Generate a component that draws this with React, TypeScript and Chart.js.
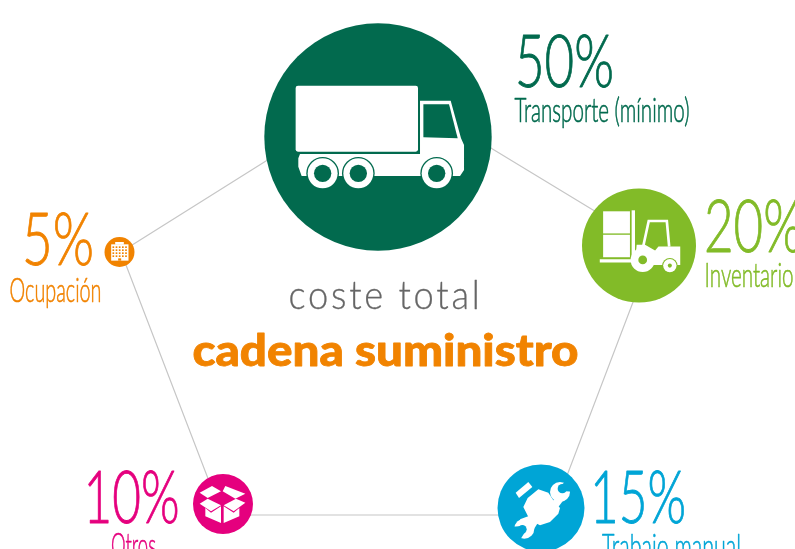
import React, { useEffect, useRef } from "react";
import { Chart, registerables } from "chart.js";

Chart.register(...registerables);

const categories = ["Transporte (mínimo)", "Inventario", "Trabajo manual", "Otros", "Ocupación"];
const shares = [50, 20, 15, 10, 5];
const bubbleX = [378, 639, 541, 223, 119.5];
const bubbleY = [137, 245.5, 508, 504, 252];
const bubbleR = [113.7, 57, 43.5, 30, 15];
const ringX = [387, 654, 552, 222, 121, 387];
const ringY = [85, 247, 515, 515, 252, 85];
const centerTitle = "coste total";
const centerSubtitle = "cadena suministro";

const GREEN = "#026A4E";
const LIME = "#82BB28";
const BLUE = "#00A5D6";
const PINK = "#E5007E";
const ORANGE = "#F18300";
const colors = [GREEN, LIME, BLUE, PINK, ORANGE];

type Ctx = CanvasRenderingContext2D;

function poly(ctx: Ctx, pts: number[][], fill: string) {
  ctx.fillStyle = fill;
  ctx.beginPath();
  pts.forEach((p, i) => (i ? ctx.lineTo(p[0], p[1]) : ctx.moveTo(p[0], p[1])));
  ctx.closePath();
  ctx.fill();
}
function disc(ctx: Ctx, x: number, y: number, r: number, fill: string) {
  ctx.fillStyle = fill;
  ctx.beginPath();
  ctx.arc(x, y, r, 0, Math.PI * 2);
  ctx.fill();
}
function rrect(ctx: Ctx, x: number, y: number, w: number, h: number, r: number, fill: string) {
  ctx.fillStyle = fill;
  ctx.beginPath();
  ctx.roundRect(x, y, w, h, r);
  ctx.fill();
}

function truck(ctx: Ctx) {
  const W = "#fff";
  rrect(ctx, 107, 227, 367, 198, 7, W);
  poly(ctx, [[120, 432], [480, 432], [480, 272], [572, 272], [603, 385], [612, 405], [612, 480], [600, 498], [125, 498], [115, 470], [115, 445]], W);
  poly(ctx, [[490, 283], [567, 283], [593, 385], [490, 382]], GREEN);
  [188, 295, 530].forEach((x) => {
    disc(ctx, x, 490, 49, GREEN);
    disc(ctx, x, 490, 45, W);
    disc(ctx, x, 490, 26, GREEN);
  });
}
function forklift(ctx: Ctx) {
  const W = "#fff";
  rrect(ctx, 85, 95, 80, 66, 0, W);
  rrect(ctx, 85, 165, 80, 67, 0, W);
  rrect(ctx, 170, 92, 10, 150, 0, W);
  rrect(ctx, 75, 238, 105, 10, 0, W);
  ctx.strokeStyle = W;
  ctx.lineWidth = 8;
  ctx.beginPath();
  ctx.moveTo(205, 198);
  ctx.lineTo(221, 124);
  ctx.lineTo(275, 124);
  ctx.lineTo(282, 200);
  ctx.stroke();
  poly(ctx, [[185, 195], [210, 195], [240, 212], [250, 200], [315, 200], [315, 255], [180, 255]], W);
  disc(ctx, 203, 240, 36, W);
  disc(ctx, 203, 240, 13, LIME);
  disc(ctx, 284, 257, 23, LIME);
  disc(ctx, 284, 257, 20, W);
  disc(ctx, 284, 257, 6, LIME);
}
function wrench(ctx: Ctx) {
  const W = "#fff";
  poly(ctx, [[32, 62], [70, 30], [82, 45], [42, 78]], W);
  disc(ctx, 165, 60, 30, W);
  poly(ctx, [[150, 80], [175, 85], [160, 105], [140, 90]], W);
  disc(ctx, 172, 50, 14, BLUE);
  poly(ctx, [[163, 44], [198, 14], [222, 60], [180, 58]], BLUE);
  disc(ctx, 58, 170, 30, W);
  poly(ctx, [[45, 142], [90, 125], [100, 150], [80, 182]], W);
  disc(ctx, 52, 172, 13, BLUE);
  poly(ctx, [[50, 162], [14, 165], [40, 212], [60, 180]], BLUE);
  poly(ctx, [[68, 78], [100, 52], [130, 62], [145, 85], [165, 108], [160, 125], [135, 150], [105, 160], [75, 145], [55, 105]], W);
}
function box(ctx: Ctx) {
  const W = "#fff";
  poly(ctx, [[28, 62], [65, 42], [92, 58], [52, 78]], W);
  poly(ctx, [[105, 42], [165, 65], [135, 80], [97, 58]], W);
  poly(ctx, [[28, 95], [52, 80], [92, 100], [62, 118]], W);
  poly(ctx, [[165, 92], [137, 80], [100, 100], [130, 118]], W);
  poly(ctx, [[45, 108], [62, 122], [92, 103], [92, 153], [45, 133]], W);
  poly(ctx, [[147, 108], [130, 122], [100, 103], [100, 153], [147, 133]], W);
}
function building(ctx: Ctx) {
  const W = "#fff";
  rrect(ctx, 333, 134, 52, 49, 0, W);
  rrect(ctx, 345, 127, 26, 8, 0, W);
  ctx.fillStyle = ORANGE;
  for (let c = 0; c < 5; c++) {
    for (let r = 0; r < 4; r++) {
      ctx.fillRect(337 + c * 9.5, 140 + r * 9, 5, 5);
    }
  }
  ctx.fillRect(354, 176, 9, 7);
}

const icons: { draw: (c: Ctx) => void; cx: number; cy: number; r: number }[] = [
  { draw: truck, cx: 354, cy: 381, r: 341 },
  { draw: forklift, cx: 192, cy: 197, r: 170 },
  { draw: wrench, cx: 108, cy: 108, r: 130.5 },
  { draw: box, cx: 98, cy: 96, r: 90 },
  { draw: building, cx: 358, cy: 157, r: 45 },
];

const textBoxes = [
  { px: [515, 87, 99], lx: [514.5, 122, 175] },
  { px: [704, 252, 99], lx: [704.5, 287, 89] },
  { px: [590, 523, 96], lx: [602, 558, 139] },
  { px: [83.5, 523, 96], lx: [111, 557, 45] },
  { px: [22, 265, 72], lx: [9.5, 302, 92] },
];

function fit(ctx: Ctx, text: string, x: number, y: number, font: string, width: number, fill: string, weight = 0) {
  ctx.save();
  ctx.font = font;
  ctx.fillStyle = fill;
  ctx.strokeStyle = fill;
  ctx.textBaseline = "alphabetic";
  ctx.textAlign = "left";
  const w = ctx.measureText(text).width;
  ctx.translate(x, y);
  ctx.scale(width / w, 1);
  ctx.fillText(text, 0, 0);
  if (weight > 0) {
    ctx.lineWidth = weight;
    ctx.lineJoin = "round";
    ctx.strokeText(text, 0, 0);
  }
  ctx.restore();
}

const artPlugin = {
  id: "infographicArt",
  afterDatasetsDraw(chart: Chart) {
    const ctx = chart.ctx;
    const meta = chart.getDatasetMeta(1);
    meta.data.forEach((el: any, i: number) => {
      const ic = icons[i];
      const k = bubbleR[i] / ic.r;
      ctx.save();
      ctx.translate(el.x, el.y);
      ctx.scale(k, k);
      ctx.translate(-ic.cx, -ic.cy);
      ic.draw(ctx);
      ctx.restore();
      const t = textBoxes[i];
      fit(ctx, shares[i] + "%", t.px[0], t.px[1], '300 72px Lato', t.px[2], colors[i], 0.9);
      fit(ctx, categories[i], t.lx[0], t.lx[1], '300 33px Lato', t.lx[2], colors[i], 0.6);
    });
    ctx.save();
    (ctx as any).letterSpacing = "3px";
    fit(ctx, centerTitle, 288.5, 309, '300 40px Lato', 194, "#666666", 0.3);
    ctx.restore();
    fit(ctx, centerSubtitle, 192.5, 366, '900 43px Lato', 386, ORANGE, 0.8);
  },
};

export default function App() {
  const ref = useRef<HTMLCanvasElement>(null);
  useEffect(() => {
    document.body.style.margin = "0";
    const chart = new Chart(ref.current!, {
      type: "bubble",
      plugins: [artPlugin],
      data: {
        datasets: [
          {
            type: "line",
            data: ringX.map((x, i) => ({ x, y: ringY[i] })),
            borderColor: "#C6C6C6",
            borderWidth: 1.2,
            pointRadius: 0,
            fill: false,
            clip: false,
            order: 2,
          } as any,
          {
            type: "bubble",
            data: bubbleX.map((x, i) => ({ x, y: bubbleY[i], r: bubbleR[i] })),
            backgroundColor: colors,
            borderWidth: 0,
            clip: false,
            order: 1,
          } as any,
        ],
      },
      options: {
        animation: false,
        responsive: false,
        layout: { padding: 0, autoPadding: false },
        plugins: { legend: { display: false }, tooltip: { enabled: false } },
        scales: {
          x: { type: "linear", min: 0, max: 795, display: false },
          y: { type: "linear", min: 0, max: 549, reverse: true, display: false },
        },
      },
    });
    return () => chart.destroy();
  }, []);
  return <canvas ref={ref} width={795} height={549} style={{ display: "block", background: "#fff" }} />;
}
